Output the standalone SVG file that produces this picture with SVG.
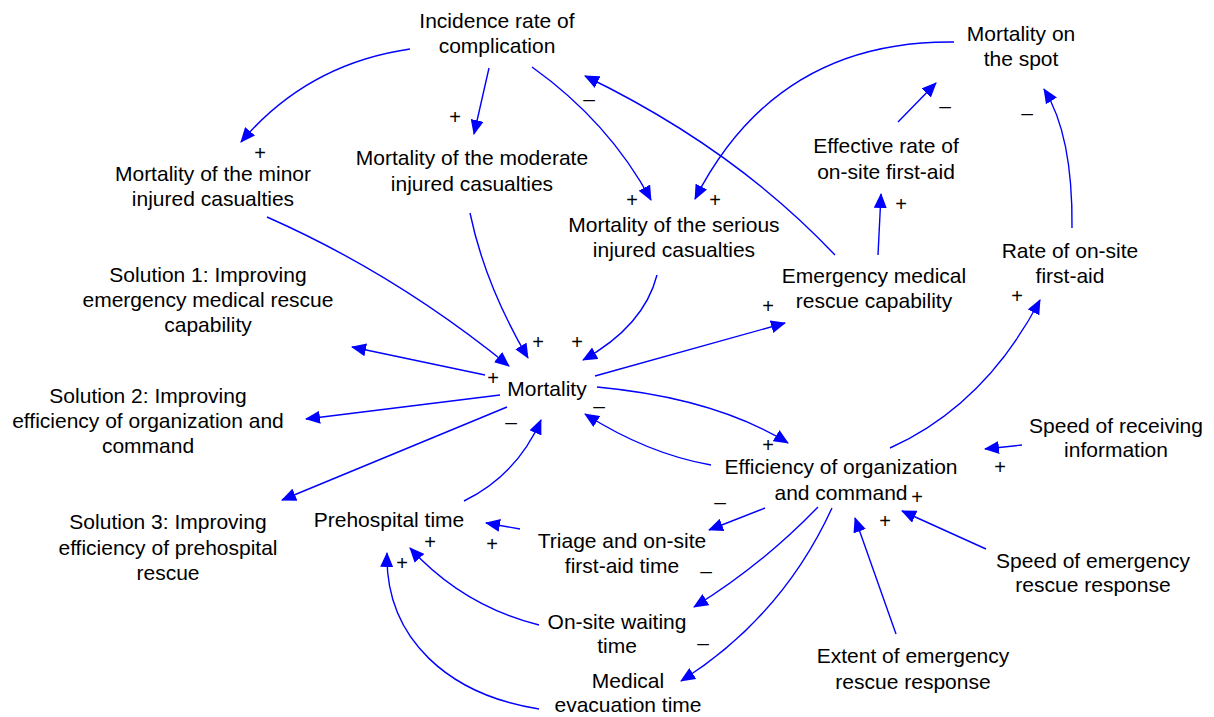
<svg xmlns="http://www.w3.org/2000/svg" width="1214" height="717" viewBox="0 0 1214 717">
<style>
.n text{font-family:"Liberation Sans",Arial,sans-serif;font-size:21px;fill:#000;text-anchor:middle}
.c path{fill:none;stroke:#0000ff;stroke-width:1.4;marker-end:url(#ah)}
.s text{font-family:"Liberation Sans",Arial,sans-serif;fill:#000;text-anchor:middle}
.p{font-size:20px}
.m{font-size:21px}
</style>
<defs>
<marker id="ah" markerUnits="userSpaceOnUse" markerWidth="15" markerHeight="13" viewBox="0 0 15 13" refX="14" refY="6.5" orient="auto">
<path d="M0,0 L15,6.5 L0,13 z" fill="#0000ff"/>
</marker>
</defs>
<rect width="1214" height="717" fill="#fff"/>
<g id="connectors" class="c">
<path d="M410,49 Q307,64 241,142"/>
<path d="M489,68 L474,134"/>
<path d="M532,67 Q609,122 651,200"/>
<path d="M835,255 Q734,148 585,76"/>
<path d="M954,42 Q776,40 695,199"/>
<path d="M898,122 L936,83"/>
<path d="M878,255 L881,194"/>
<path d="M1072,228 Q1073,135 1044,89"/>
<path d="M267,217 Q396,274 509,366"/>
<path d="M470,213 Q485,285 528,358"/>
<path d="M657,275 Q644,326 583,360"/>
<path d="M485,375 L352,347"/>
<path d="M500,395 L306,419"/>
<path d="M507,407 L282,500"/>
<path d="M464,501 Q517,475 541,420"/>
<path d="M595,376 L785,323"/>
<path d="M597,387 Q715,398 788,443"/>
<path d="M711,465 Q648,454 585,414"/>
<path d="M890,448 Q985,405 1040,300"/>
<path d="M1022,445 L985,449"/>
<path d="M986,549 L902,511"/>
<path d="M896,634 L855,518"/>
<path d="M765,508 L709,530"/>
<path d="M818,507 Q762,565 694,607"/>
<path d="M832,508 Q782,617 681,681"/>
<path d="M520,529 L486,523"/>
<path d="M539,625 Q463,606 410,548"/>
<path d="M539,709 C450,695 385,640 387,553"/>
</g>
<g id="n-incidence" class="n"><text x="497" y="28">Incidence rate of</text><text x="497" y="53">complication</text></g>
<g id="n-minor" class="n"><text x="213" y="181">Mortality of the minor</text><text x="213" y="206">injured casualties</text></g>
<g id="n-moderate" class="n"><text x="472" y="165">Mortality of the moderate</text><text x="472" y="191">injured casualties</text></g>
<g id="n-serious" class="n"><text x="674" y="232">Mortality of the serious</text><text x="674" y="257">injured casualties</text></g>
<g id="n-sol1" class="n"><text x="208" y="282">Solution 1: Improving</text><text x="208" y="307">emergency medical rescue</text><text x="208" y="332">capability</text></g>
<g id="n-mortality" class="n"><text x="547" y="396">Mortality</text></g>
<g id="n-emcap" class="n"><text x="874" y="283">Emergency medical</text><text x="874" y="308">rescue capability</text></g>
<g id="n-effective" class="n"><text x="886" y="153">Effective rate of</text><text x="886" y="179">on-site first-aid</text></g>
<g id="n-spot" class="n"><text x="1021" y="41">Mortality on</text><text x="1021" y="66">the spot</text></g>
<g id="n-rate" class="n"><text x="1070" y="258">Rate of on-site</text><text x="1070" y="283">first-aid</text></g>
<g id="n-sol2" class="n"><text x="148" y="403">Solution 2: Improving</text><text x="148" y="428">efficiency of organization and</text><text x="148" y="453">command</text></g>
<g id="n-sol3" class="n"><text x="168" y="529">Solution 3: Improving</text><text x="168" y="555">efficiency of prehospital</text><text x="168" y="580">rescue</text></g>
<g id="n-prehospital" class="n"><text x="389" y="527">Prehospital time</text></g>
<g id="n-triage" class="n"><text x="622" y="548">Triage and on-site</text><text x="622" y="573">first-aid time</text></g>
<g id="n-waiting" class="n"><text x="617" y="629">On-site waiting</text><text x="617" y="653">time</text></g>
<g id="n-medical" class="n"><text x="628" y="688">Medical</text><text x="628" y="712">evacuation time</text></g>
<g id="n-efficiency" class="n"><text x="841" y="474">Efficiency of organization</text><text x="841" y="500">and command</text></g>
<g id="n-receiving" class="n"><text x="1116" y="433">Speed of receiving</text><text x="1116" y="457">information</text></g>
<g id="n-speed" class="n"><text x="1093" y="568">Speed of emergency</text><text x="1093" y="592">rescue response</text></g>
<g id="n-extent" class="n"><text x="913" y="663">Extent of emergency</text><text x="913" y="689">rescue response</text></g>
<g id="signs" class="s">
<text class="p" x="260" y="160">+</text>
<text class="p" x="455" y="124">+</text>
<text class="p" x="632" y="207">+</text>
<text class="p" x="715" y="207">+</text>
<text class="p" x="901" y="211">+</text>
<text class="p" x="768" y="313">+</text>
<text class="p" x="1017" y="303">+</text>
<text class="p" x="538" y="349">+</text>
<text class="p" x="577" y="349">+</text>
<text class="p" x="493" y="385">+</text>
<text class="p" x="768" y="452">+</text>
<text class="p" x="917" y="504">+</text>
<text class="p" x="1000" y="474">+</text>
<text class="p" x="885" y="528">+</text>
<text class="p" x="430" y="549">+</text>
<text class="p" x="492" y="551">+</text>
<text class="p" x="402" y="570">+</text>
<text class="m" x="589" y="106">–</text>
<text class="m" x="945" y="113">–</text>
<text class="m" x="1027" y="120">–</text>
<text class="m" x="511" y="429">–</text>
<text class="m" x="599" y="413">–</text>
<text class="m" x="720" y="509">–</text>
<text class="m" x="706" y="578">–</text>
<text class="m" x="703" y="650">–</text>
</g>
</svg>
